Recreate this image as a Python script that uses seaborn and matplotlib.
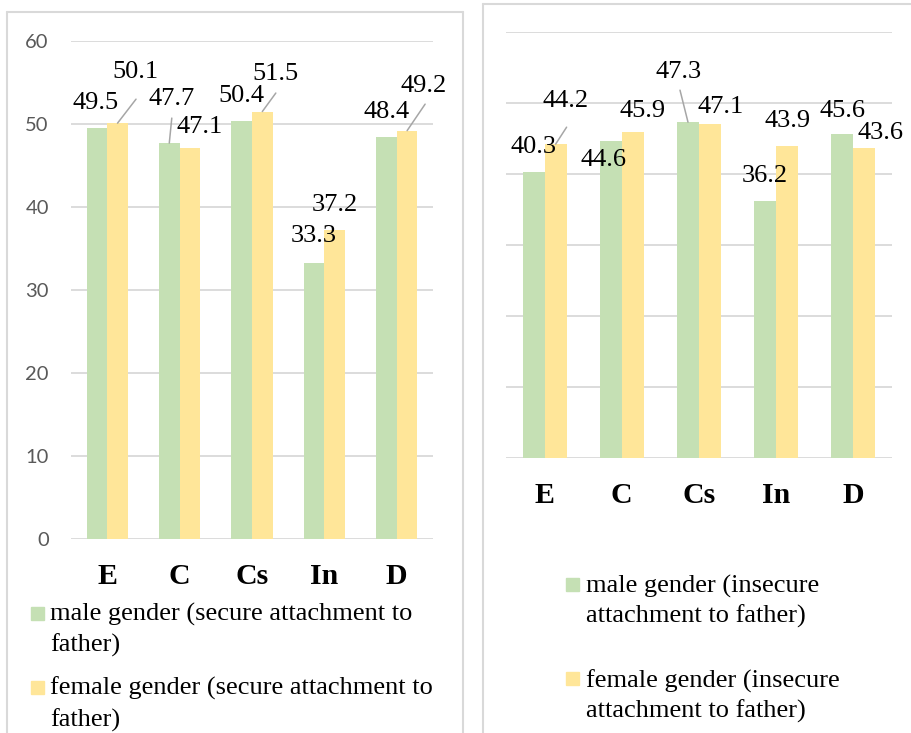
import numpy as np
import pandas as pd
import seaborn as sns
import matplotlib.pyplot as plt
from matplotlib.patches import Rectangle
from matplotlib.lines import Line2D

# ---- data -------------------------------------------------------------
traits = ["E", "C", "Cs", "In", "D"]
male_secure = [49.5, 47.7, 50.4, 33.3, 48.4]
female_secure = [50.1, 47.1, 51.5, 37.2, 49.2]
male_insecure = [40.3, 44.6, 47.3, 36.2, 45.6]
female_insecure = [44.2, 45.9, 47.1, 43.9, 43.6]
y_ticks = [0, 10, 20, 30, 40, 50, 60]

series_secure = ["male gender (secure attachment to father)",
                 "female gender (secure attachment to father)"]
series_insecure = ["male gender (insecure attachment to father)",
                   "female gender (insecure attachment to father)"]
legend_lines_secure = [["male gender (secure attachment to", "father)"],
                       ["female gender (secure attachment to", "father)"]]
legend_lines_insecure = [["male gender (insecure", "attachment to father)"],
                         ["female gender (insecure", "attachment to father)"]]

# ---- style ------------------------------------------------------------
GREEN = "#C5E0B4"
YELLOW = "#FFE699"
GRID = "#D9D9D9"
LEADER = "#A6A6A6"
SERIF = ["Liberation Serif", "DejaVu Serif"]
W, H = 912, 733

sns.set_theme(style="white")
plt.rcParams["font.family"] = SERIF

fig = plt.figure(figsize=(W / 100, H / 100), dpi=100)


def px_rect(x0, y0, x1, y1):
    """figure-fraction rect from pixel corners (top-left origin)"""
    return [x0 / W, 1 - y1 / H, (x1 - x0) / W, (y1 - y0) / H]


def long_table(male, female, names):
    return pd.DataFrame({
        "trait": traits * 2,
        "value": list(male) + list(female),
        "series": [names[0]] * len(traits) + [names[1]] * len(traits),
    })


def draw_panel(ax, male, female, names, offsets, leaders, show_yticks):
    df = long_table(male, female, names)
    sns.barplot(data=df, x="trait", y="value", hue="series",
                hue_order=names, order=traits,
                palette=[GREEN, YELLOW], width=0.57, saturation=1,
                legend=False, ax=ax, edgecolor="none", linewidth=0)
    ax.set_xlim(-0.5, len(traits) - 0.5)
    ax.set_ylim(0, 60)
    ax.set_yticks(y_ticks)
    ax.grid(axis="y", color=GRID, linewidth=1.3)
    ax.grid(axis="x", visible=False)
    ax.set_axisbelow(True)
    for s in ax.spines.values():
        s.set_visible(False)
    ax.set_xlabel("")
    ax.set_ylabel("")
    ax.tick_params(axis="x", length=0, pad=17)
    for lab in ax.get_xticklabels():
        lab.set_fontweight("bold")
        lab.set_fontsize(21.5)
        lab.set_color("black")
        lab.set_family(SERIF)
    if show_yticks:
        ax.tick_params(axis="y", length=0, pad=16, labelsize=14.5,
                       labelcolor="#595959")
        for lab in ax.get_yticklabels():
            lab.set_family(["Lato", "DejaVu Sans"])
    else:
        ax.tick_params(axis="y", length=0, labelleft=False)

    # data labels, positioned from each bar top
    for j, cont in enumerate(ax.containers):
        vals = male if j == 0 else female
        for i, bar in enumerate(cont):
            v = vals[i]
            bx = bar.get_x() + bar.get_width() / 2
            dx, dy = offsets[j][i]
            ax.annotate(f"{v:.1f}", xy=(bx, v), xytext=(dx, dy),
                        textcoords="offset pixels", ha="center",
                        va="center", fontsize=19, color="black",
                        family=SERIF, annotation_clip=False)
            if (j, i) in leaders:
                lx, ly = leaders[(j, i)]
                ax.annotate("", xy=(bx, v), xytext=(lx, ly),
                            textcoords="offset pixels",
                            arrowprops=dict(arrowstyle="-", color=LEADER,
                                            lw=1.1, shrinkA=0, shrinkB=0),
                            annotation_clip=False)


def draw_legend(x_sq, sq_tops, x_txt, baselines, lines_list):
    for k, (color, lines) in enumerate(zip([GREEN, YELLOW], lines_list)):
        top = sq_tops[k]
        fig.patches.append(Rectangle((x_sq / W, 1 - (top + 13) / H),
                                     13 / W, 13 / H, color=color,
                                     transform=fig.transFigure))
        for m, line in enumerate(lines):
            fig.text(x_txt / W, 1 - baselines[k][m] / H, line,
                     fontsize=19, va="baseline", ha="left",
                     family=SERIF, color="black")


# ---- panel frames -----------------------------------------------------
def frame(x0, y0, x1, y1):
    for xs, ys in [((x0, x1), (y0, y0)), ((x0, x0), (y0, y1)),
                   ((x1, x1), (y0, y1))]:
        fig.lines.append(Line2D([x / W for x in xs], [1 - y / H for y in ys],
                                transform=fig.transFigure, color=GRID,
                                lw=1.5))

frame(7, 12, 463, H + 5)
frame(483, 4, W + 5, H + 5)

# ---- left panel: secure attachment ---------------------------------------
ax1 = fig.add_axes(px_rect(71, 41, 433, 539))
off_secure = [
    [(-1, 25), (2, 44), (0, 25), (0, 27), (0, 25)],
    [(18, 51), (10, 21), (13, 38), (0, 25), (17, 45)],
]
lead_secure = {(1, 0): (18.5, 24), (0, 1): (2.5, 25),
               (1, 2): (13.5, 18.5), (1, 4): (18, 26.5)}
draw_panel(ax1, male_secure, female_secure, series_secure,
           off_secure, lead_secure, True)
draw_legend(31, [607, 681], 50, [[621, 652], [695, 727]],
            legend_lines_secure)

# ---- right panel: insecure attachment ------------------------------------
ax2 = fig.add_axes(px_rect(506, 32, 892, 458))
off_insecure = [
    [(0, 25), (-7, -19), (-9, 50), (0, 25), (0, 23)],
    [(10, 43), (10, 21), (11, 17), (0, 25), (16, 15)],
]
lead_insecure = {(1, 0): (11, 17), (0, 2): (-8, 32)}
draw_panel(ax2, male_insecure, female_insecure, series_insecure,
           off_insecure, lead_insecure, False)
draw_legend(566, [578, 672], 586, [[593, 623], [688, 718]],
            legend_lines_insecure)

fig.savefig("out.png", dpi=100, facecolor="white")
